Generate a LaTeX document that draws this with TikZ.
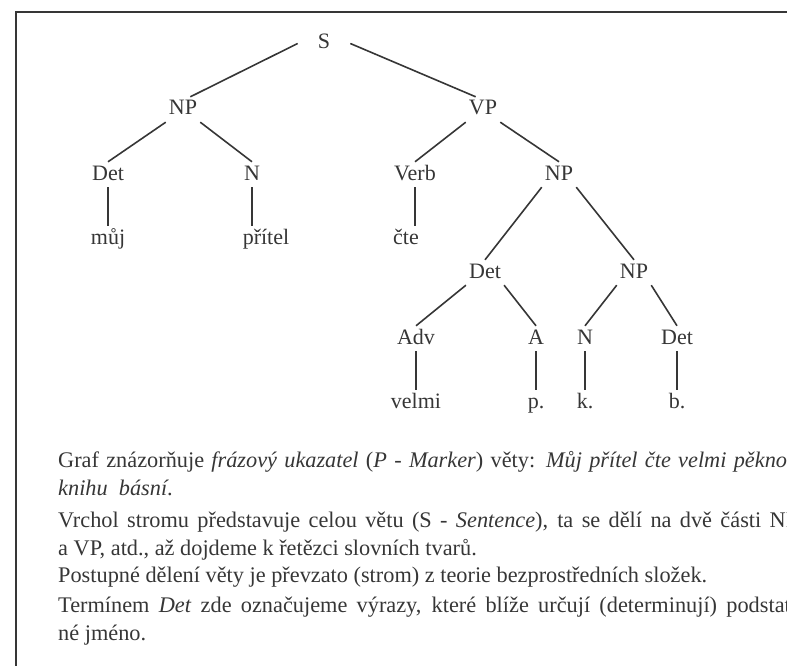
\documentclass[tikz,border=0pt]{standalone}
\usepackage{fontspec}
\setmainfont{Liberation Serif}
\usepackage{xcolor}
\definecolor{ink}{HTML}{363636}

\begin{document}
\begin{tikzpicture}[x=1pt,y=-1pt,
  lbl/.style={anchor=base,inner sep=3pt,text height=15pt,text depth=4pt,
    font=\fontsize{22}{26}\selectfont,text=ink},
  txt/.style={anchor=base west,inner sep=0pt,font=\fontsize{22.3}{27}\selectfont,text=ink},
  branch/.style={draw=ink,line width=1.6pt}]
  \useasboundingbox (0,0) rectangle (787,666);
  \clip (0,0) rectangle (787,666);
  \draw[ink,line width=1.6pt] (787,12) -- (16,12) -- (16,666);

  \node (s) [lbl,inner xsep=20pt] at (324,49) {S};
  \node (np) [lbl] at (183,115) {NP};
  \node (vp) [lbl] at (483,115) {VP};
  \node (det) [lbl] at (108,180) {Det};
  \node (n) [lbl] at (252,180) {N};
  \node (verb) [lbl] at (415,180) {Verb};
  \node (npb) [lbl] at (559,180) {NP};
  \node (muj) [lbl] at (108,244) {můj};
  \node (pritel) [lbl] at (266,244) {přítel};
  \node (cte) [lbl] at (406,244) {čte};
  \node (detb) [lbl] at (485,278) {Det};
  \node (npc) [lbl] at (634,278) {NP};
  \node (adv) [lbl] at (416,344) {Adv};
  \node (a) [lbl] at (536,344) {A};
  \node (nc) [lbl] at (585,344) {N};
  \node (detc) [lbl] at (677,344) {Det};
  \node (velmi) [lbl] at (416,408) {velmi};
  \node (p) [lbl] at (536,408) {p.};
  \node (k) [lbl] at (585,408) {k.};
  \node (b) [lbl] at (677,408) {b.};

  \draw[branch] (s.west) -- (np.60);
  \draw[branch] (s.east) -- (vp.120);
  \draw[branch] (np.south west) -- (det.north);
  \draw[branch] (np.south east) -- (n.north);
  \draw[branch] (vp.south west) -- (verb.north);
  \draw[branch] (vp.south east) -- (npb.north);
  \draw[branch] (npb.south west) -- (detb.north);
  \draw[branch] (npb.south east) -- (npc.north);
  \draw[branch] (detb.south west) -- (adv.north);
  \draw[branch] (detb.south east) -- (a.north);
  \draw[branch] (npc.south west) -- (nc.north);
  \draw[branch] (npc.south east) -- (detc.north);
  \draw[branch] (det.south) -- (det.south |- muj.north);
  \draw[branch] (n.south) -- (n.south |- pritel.north);
  \draw[branch] (verb.south) -- (verb.south |- cte.north);
  \draw[branch] (adv.south) -- (adv.south |- velmi.north);
  \draw[branch] (a.south) -- (a.south |- p.north);
  \draw[branch] (nc.south) -- (nc.south |- k.north);
  \draw[branch] (detc.south) -- (detc.south |- b.north);

  \node (l1) [txt] at (58,467) {\makebox[740pt][s]{Graf znázorňuje \textit{frázový ukazatel} (\textit{P - Marker}) věty: \textit{Můj přítel čte velmi pěknou}}};
  \node (l2) [txt] at (58,495) {\textit{knihu\ \ básní}.};
  \node (l3) [txt] at (58,527) {\makebox[740pt][s]{Vrchol stromu představuje celou větu (S - \textit{Sentence}), ta se dělí na dvě části NP}};
  \node (l4) [txt] at (58,555) {a VP, atd., až dojdeme k řetězci slovních tvarů.};
  \node (l5) [txt] at (58,582) {Postupné dělení věty je převzato (strom) z teorie bezprostředních složek.};
  \node (l6) [txt] at (58,612) {\makebox[740pt][s]{Termínem \textit{Det} zde označujeme výrazy, které blíže určují (determinují) podstat-}};
  \node (l7) [txt] at (58,640) {né jméno.};
\end{tikzpicture}
\end{document}
